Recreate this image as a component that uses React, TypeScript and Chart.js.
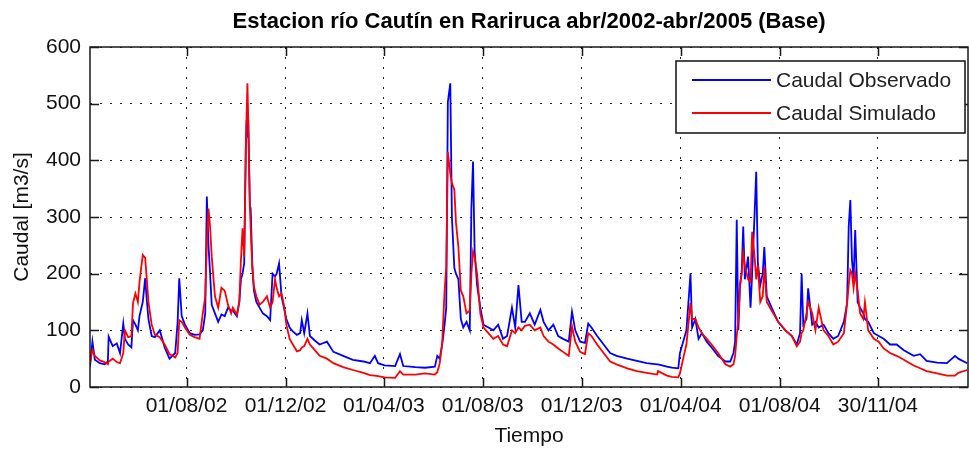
import React, { useEffect, useRef } from "react";
import { Chart, registerables } from "chart.js";

Chart.register(...registerables);

const FONT = '"Liberation Sans", Arial, Helvetica, sans-serif';

const chartTitle = "Estacion río Cautín en Rariruca abr/2002-abr/2005 (Base)";
const xTitle = "Tiempo";
const yTitle = "Caudal [m3/s]";
const seriesLabels = ["Caudal Observado", "Caudal Simulado"];

// days counted from 01/04/2002
const days = [
  3, 6, 9, 15, 21, 25, 26, 31, 36, 40, 44, 46, 50, 54, 56, 59, 62, 64, 68, 71, 73, 75, 79, 83, 89, 95, 101, 108, 111, 113,
  116, 120, 126, 132, 138, 142, 145, 147, 149, 151, 153, 157, 161, 165, 169, 173, 177,
  179, 184, 187, 189, 191, 193, 195, 196, 197, 198, 200, 201, 203, 205, 208, 212, 216, 221, 225, 228,
  231, 233, 236, 239, 242, 245, 249, 253, 258, 262, 264, 267, 271, 274, 280, 286, 295, 303, 315, 327, 340, 348, 354, 358,
  366, 379, 385, 389, 404, 416, 428, 431, 434, 437, 440, 442, 444, 447, 449, 452, 454, 457, 460, 463,
  467, 471, 473, 475, 477, 480, 484, 488, 494, 500, 506, 512, 517, 523, 527, 531, 535,
  539, 545, 551, 558, 562, 568, 574, 580, 586, 593, 597, 601, 607, 613, 617, 621, 628, 636, 644, 652, 665, 677, 689, 702, 703, 714,
  720, 728, 730, 734, 738, 743, 745, 749, 753, 757, 763, 769, 777, 786, 792, 796, 798, 800, 802, 804,
  806, 808, 810, 814, 817, 819, 822, 824, 826, 829, 832, 834, 837, 843, 851, 860, 868, 874, 878, 880, 882, 886, 888, 893,
  897, 901, 907, 913, 919, 925, 932, 936, 938, 940, 942, 944, 946, 949, 952, 956, 958, 962, 969, 975,
  981, 989, 997, 1006, 1018, 1026, 1034, 1047, 1059, 1069, 1073, 1084,
];

const observado = [
  36, 80, 48, 42, 40, 45, 89, 72, 77, 60, 112, 85, 75, 70, 118, 110, 100, 125, 150, 192, 153, 120, 90, 88, 100, 70, 50, 60, 115, 192,
  125, 110, 95, 92, 93, 100, 130, 336, 250, 200, 145, 130, 115, 128, 125, 140, 135,
  135, 125, 150, 190, 200, 218, 420, 471, 440, 471, 320, 315, 215, 170, 150, 140, 130, 125, 118, 200,
  195, 200, 218, 160, 140, 120, 105, 98, 92, 95, 118, 95, 130, 90, 82, 75, 80, 62, 55, 48, 45, 42, 55, 42,
  38, 37, 58, 37, 35, 34, 36, 55, 50, 75, 110, 140, 503, 536, 300, 210, 200, 190, 120, 105,
  115, 100, 315, 398, 240, 180, 140, 110, 105, 100, 110, 85, 90, 140, 105, 180, 115,
  115, 130, 110, 136, 115, 100, 110, 90, 85, 80, 133, 100, 80, 78, 112, 105, 90, 75, 60, 55, 50, 46, 42, 40, 40, 36,
  34, 33, 60, 80, 100, 200, 105, 120, 85, 95, 80, 70, 55, 45, 45, 60, 80, 295, 100, 180,
  200, 283, 190, 230, 140, 200, 306, 380, 220, 180, 200, 247, 160, 140, 115, 100, 90, 75, 95, 200, 110, 120, 174, 110,
  115, 105, 110, 95, 85, 90, 115, 148, 283, 330, 224, 190, 277, 150, 140, 130, 120, 115, 95, 90,
  85, 75, 75, 65, 55, 58, 46, 43, 42, 55, 50, 42,
];

const simulado = [
  42, 65, 55, 47, 44, 40, 45, 50, 44, 42, 60, 100, 88, 90, 148, 165, 150, 185, 233, 228, 190, 150, 110, 92, 88, 75, 58, 52, 60, 118,
  115, 105, 92, 88, 85, 130, 159, 250, 315, 283, 230, 160, 140, 175, 170, 145, 130,
  140, 128, 150, 224, 280, 230, 420, 480, 536, 474, 320, 280, 212, 177, 160, 145, 150, 160, 140, 150,
  190, 175, 160, 165, 145, 110, 85, 75, 63, 65, 70, 72, 85, 75, 65, 55, 50, 42, 35, 30, 25, 21, 20, 19,
  17, 16, 28, 22, 22, 24, 22, 26, 42, 77, 170, 212, 415, 377, 360, 348, 290, 247, 170, 160,
  130, 135, 200, 239, 230, 200, 130, 105, 95, 85, 90, 75, 72, 100, 95, 105, 100,
  108, 110, 100, 105, 90, 80, 75, 68, 62, 55, 107, 80, 62, 58, 95, 90, 75, 60, 45, 40, 33, 28, 25, 22, 28, 20,
  18, 17, 24, 50, 75, 148, 120, 120, 105, 95, 85, 75, 60, 40, 36, 40, 55, 90, 120, 177,
  200, 236, 215, 190, 185, 274, 230, 190, 215, 150, 160, 212, 150, 135, 115, 100, 90, 72, 80, 95, 100, 130, 150, 130,
  100, 140, 100, 90, 75, 80, 95, 148, 180, 206, 200, 175, 200, 170, 130, 120, 150, 100, 85, 80,
  68, 60, 55, 48, 38, 33, 28, 24, 20, 20, 25, 30,
];

const tickDays = [122, 244, 365, 487, 609, 731, 853, 974];
const tickLabels = ["01/08/02", "01/12/02", "01/04/03", "01/08/03", "01/12/03", "01/04/04", "01/08/04", "30/11/04"];
const yTicks = [0, 100, 200, 300, 400, 500, 600];

const colors = ["#0000ff", "#ff0000"];

const decorPlugin = {
  id: "matlabDecor",
  afterDatasetsDraw(chart: any) {
    const { ctx, chartArea: a, scales } = chart;
    ctx.save();
    ctx.strokeStyle = "#1a1a1a";
    ctx.lineWidth = 1.5;
    const L = 9;
    ctx.beginPath();
    for (const t of scales.x.ticks) {
      const px = Math.round(scales.x.getPixelForValue(t.value)) + 0.5;
      ctx.moveTo(px, a.bottom);
      ctx.lineTo(px, a.bottom - L);
      ctx.moveTo(px, a.top);
      ctx.lineTo(px, a.top + L);
    }
    for (const t of scales.y.ticks) {
      const py = Math.round(scales.y.getPixelForValue(t.value)) + 0.5;
      ctx.moveTo(a.left, py);
      ctx.lineTo(a.left + L, py);
      ctx.moveTo(a.right, py);
      ctx.lineTo(a.right - L, py);
    }
    ctx.stroke();
    ctx.strokeRect(a.left, a.top, a.right - a.left, a.bottom - a.top);
    ctx.restore();
  },
  afterDraw(chart: any) {
    const { ctx, chartArea: a } = chart;
    ctx.save();
    // title
    ctx.fillStyle = "#000";
    ctx.font = `bold 22px ${FONT}`;
    ctx.textAlign = "center";
    ctx.textBaseline = "middle";
    ctx.fillText(chartTitle, (a.left + a.right) / 2, 22);
    // legend
    const bx = a.right - 292;
    const by = a.top + 14;
    const bw = 289;
    const bh = 72;
    ctx.fillStyle = "#fff";
    ctx.fillRect(bx, by, bw, bh);
    ctx.strokeStyle = "#111";
    ctx.lineWidth = 1.5;
    ctx.strokeRect(bx, by, bw, bh);
    const rows = [19, 52];
    ctx.font = `21px ${FONT}`;
    ctx.textAlign = "left";
    chart.data.datasets.forEach((ds: any, i: number) => {
      const y = by + rows[i];
      ctx.strokeStyle = ds.borderColor;
      ctx.lineWidth = 1.8;
      ctx.beginPath();
      ctx.moveTo(bx + 16, y);
      ctx.lineTo(bx + 95, y);
      ctx.stroke();
      ctx.fillStyle = "#222";
      ctx.fillText(ds.label, bx + 100, y + 1);
    });
    ctx.restore();
  },
};

export default function App() {
  const ref = useRef<HTMLCanvasElement | null>(null);

  useEffect(() => {
    document.body.style.margin = "0";
    const canvas = ref.current;
    if (!canvas) return;
    const tickFont = { family: FONT, size: 21 };
    const chart = new Chart(canvas, {
      type: "line",
      data: {
        datasets: [
          {
            label: seriesLabels[0],
            data: days.map((d, i) => ({ x: d, y: observado[i] })),
            borderColor: colors[0],
            backgroundColor: colors[0],
            borderWidth: 1.8,
            pointRadius: 0,
            tension: 0,
            order: 1,
          },
          {
            label: seriesLabels[1],
            data: days.map((d, i) => ({ x: d, y: simulado[i] })),
            borderColor: colors[1],
            backgroundColor: colors[1],
            borderWidth: 1.8,
            pointRadius: 0,
            tension: 0,
            order: 0,
          },
        ],
      },
      options: {
        animation: false,
        responsive: false,
        devicePixelRatio: 1,
        layout: { padding: { top: 47, right: 1, left: 0, bottom: 0 } },
        plugins: {
          legend: { display: false },
          title: { display: false },
          tooltip: { enabled: false },
        },
        scales: {
          x: {
            type: "linear",
            min: 3,
            max: 1085,
            afterBuildTicks: (s: any) => {
              s.ticks = tickDays.map((v) => ({ value: v }));
            },
            afterFit: (s: any) => {
              s.height = 63;
            },
            ticks: {
              autoSkip: false,
              maxRotation: 0,
              padding: 7,
              color: "#111",
              font: tickFont,
              callback: (v: any) => {
                const i = tickDays.indexOf(Number(v));
                return i >= 0 ? tickLabels[i] : "";
              },
            },
            grid: { color: "#222", lineWidth: 1, drawTicks: false },
            border: { display: false, dash: [2, 8] },
            title: {
              display: true,
              text: xTitle,
              color: "#111",
              font: tickFont,
              padding: { top: 0, bottom: 1 },
            },
          },
          y: {
            type: "linear",
            min: 0,
            max: 600,
            afterBuildTicks: (s: any) => {
              s.ticks = yTicks.map((v) => ({ value: v }));
            },
            afterFit: (s: any) => {
              s.width = 90;
            },
            ticks: {
              padding: 9,
              color: "#111",
              font: tickFont,
            },
            grid: { color: "#222", lineWidth: 1, drawTicks: false },
            border: { display: false, dash: [2, 8] },
            title: {
              display: true,
              text: yTitle,
              color: "#111",
              font: tickFont,
              padding: { top: 10, bottom: 0 },
            },
          },
        },
      },
      plugins: [decorPlugin],
    } as any);
    return () => chart.destroy();
  }, []);

  return (
    <div style={{ width: 969, height: 450 }}>
      <canvas ref={ref} width={969} height={450} style={{ display: "block" }} />
    </div>
  );
}
